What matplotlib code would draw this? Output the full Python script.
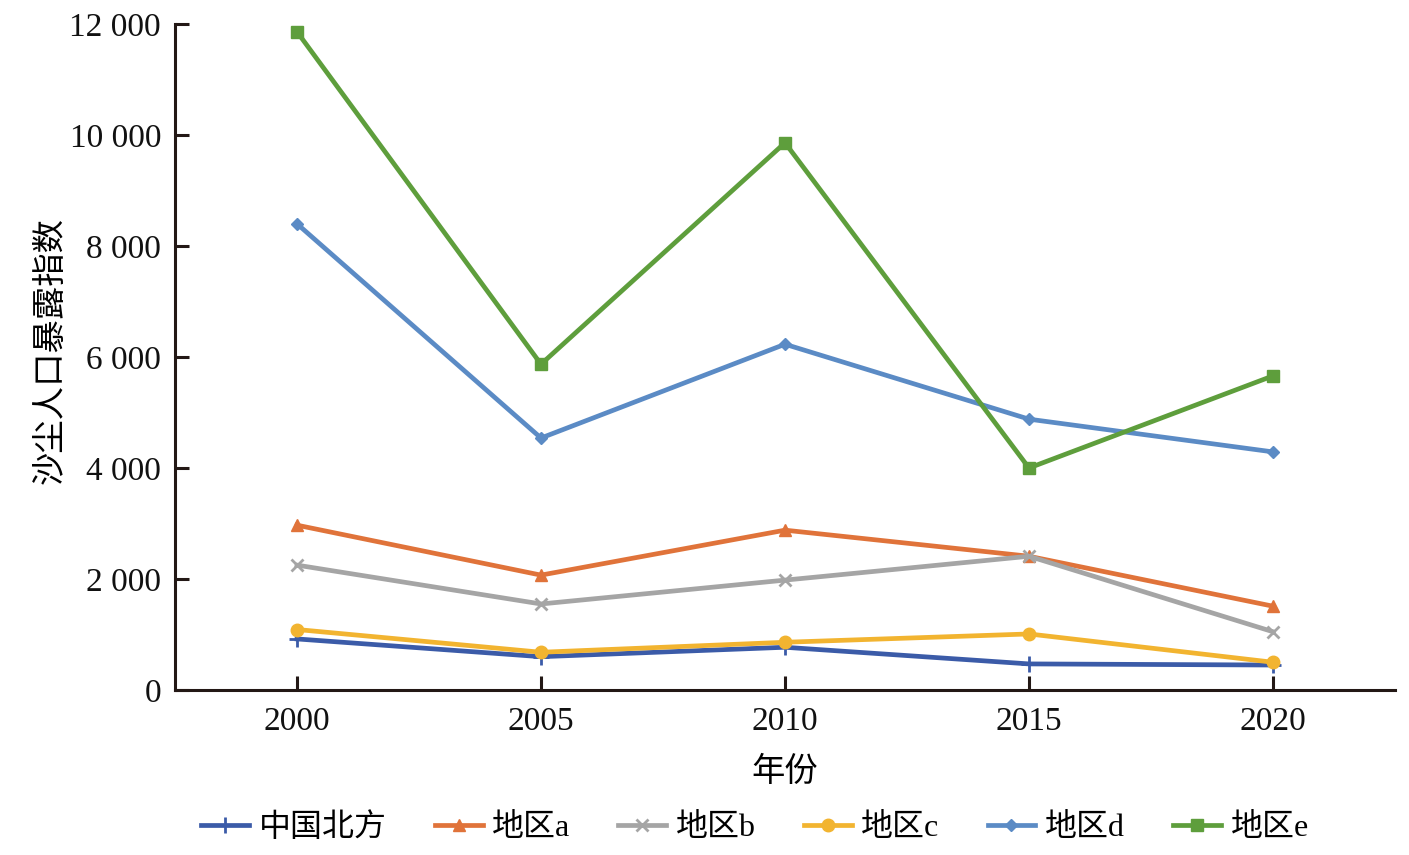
import matplotlib
matplotlib.use("Agg")
import matplotlib.pyplot as plt
from matplotlib.ticker import FuncFormatter

plt.rcParams['font.family'] = ['Liberation Serif', 'Noto Sans CJK SC']

years = [2000, 2005, 2010, 2015, 2020]
series_names = ["中国北方", "地区a", "地区b", "地区c", "地区d", "地区e"]
north_china = [920, 600, 770, 470, 450]
region_a = [2970, 2070, 2880, 2410, 1510]
region_b = [2250, 1550, 1980, 2410, 1050]
region_c = [1090, 680, 860, 1010, 500]
region_d = [8400, 4540, 6230, 4880, 4290]
region_e = [11860, 5870, 9860, 4000, 5660]
y_ticks = [0, 2000, 4000, 6000, 8000, 10000, 12000]

data = [north_china, region_a, region_b, region_c, region_d, region_e]
colors = ["#3B5BA8", "#E0733A", "#A5A5A5", "#F2B430", "#5B8BC5", "#5E9E3C"]
markers = ["+", "^", "x", "o", "D", "s"]
msizes = [12, 9, 9, 9, 6, 9]

fig = plt.figure(figsize=(14.09, 8.55), dpi=100)
ax = fig.add_axes([175/1409, 1-690/855, (1395-175)/1409, (690-24)/855])

for name, vals, c, m, ms in zip(series_names, data, colors, markers, msizes):
    ax.plot(years, vals, color=c, lw=3.4, marker=m, markersize=ms,
            markeredgewidth=2 if m in ('+', 'x') else 1, markeredgecolor=c,
            label=name)

ax.set_xlim(1997.5, 2022.5)
ax.set_ylim(0, 12000)
ax.set_xticks(years)
ax.set_yticks(y_ticks)
ax.yaxis.set_major_formatter(FuncFormatter(lambda v, p: f"{int(v):,}".replace(",", " ")))
for s in ("top", "right"):
    ax.spines[s].set_visible(False)
for s in ("left", "bottom"):
    ax.spines[s].set_linewidth(2.2)
    ax.spines[s].set_color("#231815")
ax.tick_params(axis='both', direction='in', length=10, width=2.2, color="#231815",
               labelsize=24, labelcolor="#111111")
ax.tick_params(axis='x', pad=12)
ax.tick_params(axis='y', pad=10)

ax.set_xlabel("年份", fontsize=24, labelpad=14)
ax.set_ylabel("沙尘人口暴露指数", fontsize=24, labelpad=8)
ax.yaxis.set_label_coords(-108/1220, 0.51)

fig.legend(loc='center', bbox_to_anchor=(755/1409, 1-828/855), ncol=6, frameon=False,
           fontsize=23, handlelength=1.5, columnspacing=1.5, handletextpad=0.3)

fig.savefig("out.png", dpi=100)
